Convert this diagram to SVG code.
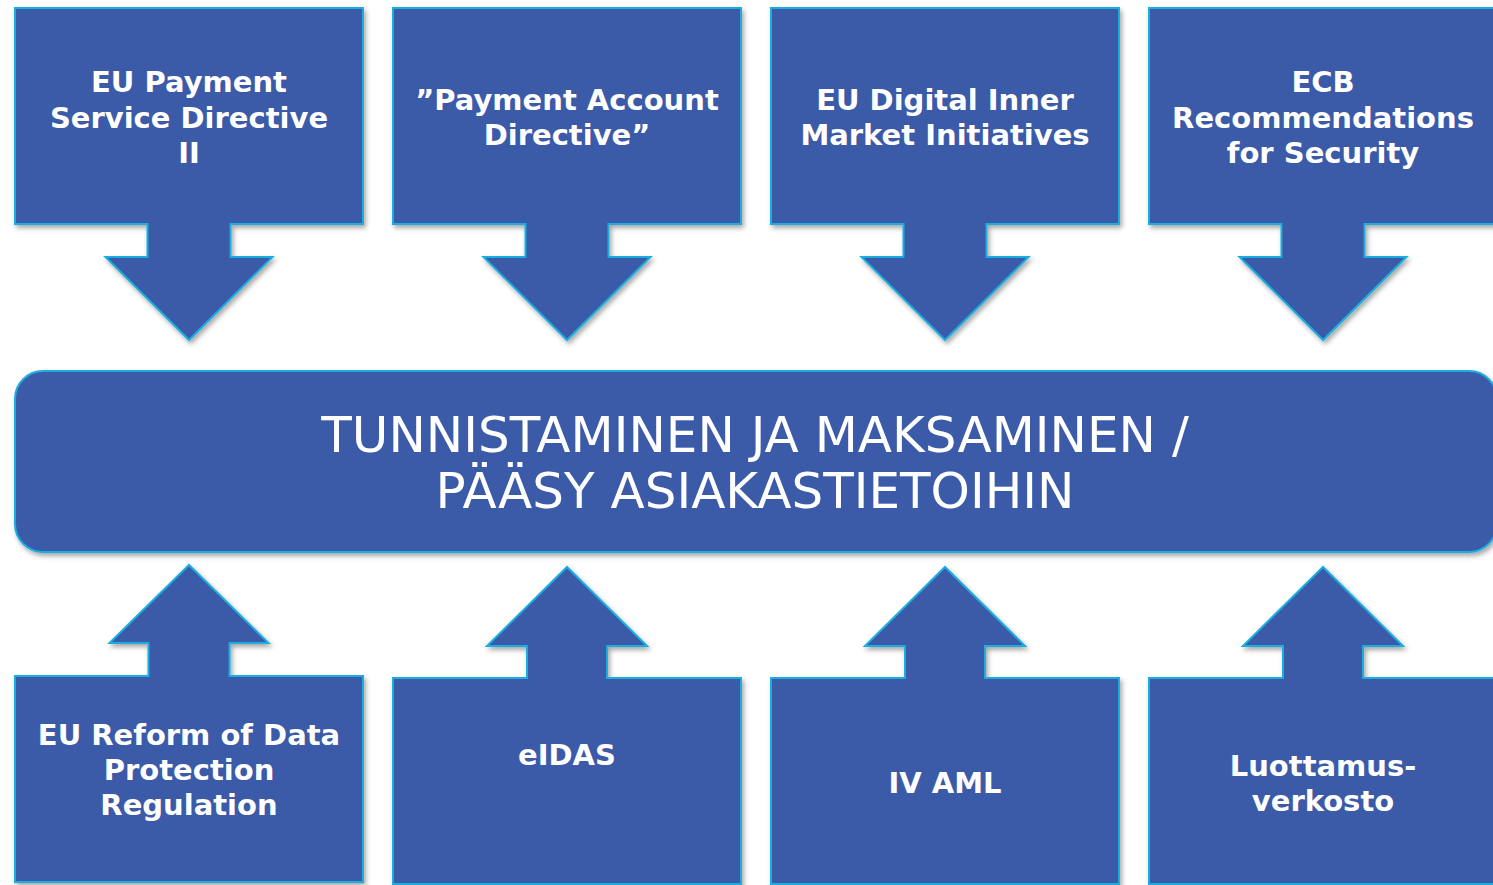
<svg xmlns="http://www.w3.org/2000/svg" width="1493" height="885" viewBox="0 0 1493 885">
<defs>
<filter id="sh" x="-10%" y="-10%" width="120%" height="130%">
<feDropShadow dx="2" dy="3" stdDeviation="2.5" flood-color="#000" flood-opacity="0.35"/>
</filter>
<style>
.shape{fill:#3A5AA8;stroke:#1CADE0;stroke-width:2;filter:url(#sh)}
.lbl{font-family:Verdana,"DejaVu Sans",sans-serif;font-weight:bold;font-size:29px;fill:#fff;text-anchor:middle}
.main{font-family:Verdana,"DejaVu Sans",sans-serif;font-size:50px;fill:#fff;text-anchor:middle}
</style>
</defs>
<rect width="1493" height="885" fill="#fff"/>
<g id="connectors"></g>
<g id="top1">
<path class="shape" d="M15 8H363V224H230.5V257H272.5L189 340L105.5 257H147.5V224H15Z"/>
<text class="lbl" x="189" y="92">EU Payment</text>
<text class="lbl" x="189" y="128">Service Directive</text>
<text class="lbl" x="189" y="163">II</text>
</g>
<g id="top2">
<path class="shape" d="M393 8H741V224H608.5V257H650.5L567 340L483.5 257H525.5V224H393Z"/>
<text class="lbl" x="567" y="110">”Payment Account</text>
<text class="lbl" x="567" y="145">Directive”</text>
</g>
<g id="top3">
<path class="shape" d="M771 8H1119V224H986.5V257H1028.5L945 340L861.5 257H903.5V224H771Z"/>
<text class="lbl" x="945" y="110">EU Digital Inner</text>
<text class="lbl" x="945" y="145">Market Initiatives</text>
</g>
<g id="top4">
<path class="shape" d="M1149 8H1497V224H1364.5V257H1406.5L1323 340L1239.5 257H1281.5V224H1149Z"/>
<text class="lbl" x="1323" y="92">ECB</text>
<text class="lbl" x="1323" y="128">Recommendations</text>
<text class="lbl" x="1323" y="163">for Security</text>
</g>
<g id="center">
<rect class="shape" x="15" y="371" width="1482" height="181" rx="28" ry="28"/>
<text class="main" x="755" y="452">TUNNISTAMINEN JA MAKSAMINEN /</text>
<text class="main" x="755" y="508">PÄÄSY ASIAKASTIETOIHIN</text>
</g>
<g id="bottom1">
<path class="shape" d="M15 676H148.5V643H109.5L189 565L268.5 643H229.5V676H363V882H15Z"/>
<text class="lbl" x="189" y="745">EU Reform of Data</text>
<text class="lbl" x="189" y="780">Protection</text>
<text class="lbl" x="189" y="815">Regulation</text>
</g>
<g id="bottom2">
<path class="shape" d="M393 678H527V646H487L567 567L647 646H607V678H741V884H393Z"/>
<text class="lbl" x="567" y="765">eIDAS</text>
</g>
<g id="bottom3">
<path class="shape" d="M771 678H905V646H865L945 567L1025 646H985V678H1119V884H771Z"/>
<text class="lbl" x="945" y="793">IV AML</text>
</g>
<g id="bottom4">
<path class="shape" d="M1149 678H1283V646H1243L1323 567L1403 646H1363V678H1497V884H1149Z"/>
<text class="lbl" x="1323" y="776">Luottamus-</text>
<text class="lbl" x="1323" y="811">verkosto</text>
</g>
</svg>
